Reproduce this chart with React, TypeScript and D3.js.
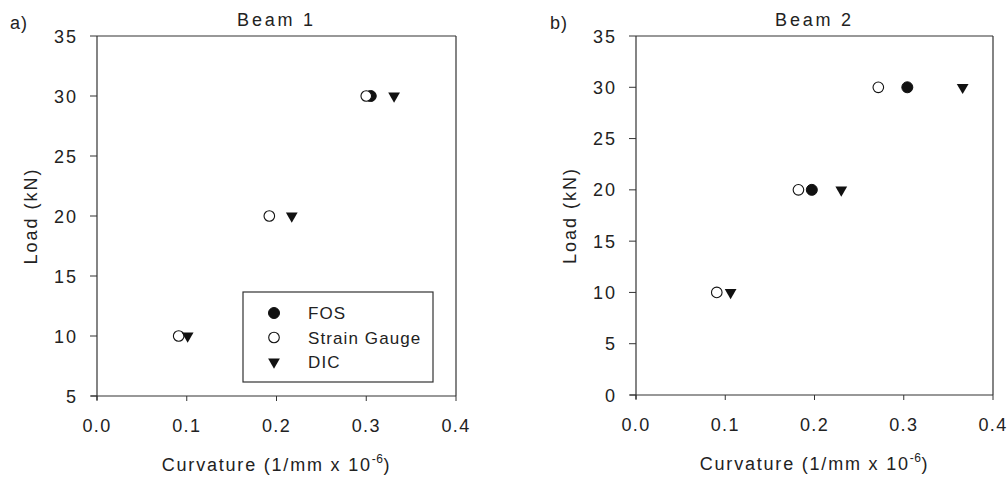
import React from "react";
import * as d3 from "d3";

const loads = [10, 20, 30];
const beam1FOS = [{ x: 0.305, y: 30 }];
const beam1SG = [0.091, 0.192, 0.300];
const beam1DIC = [0.101, 0.217, 0.331];
const beam2FOS = [{ x: 0.197, y: 20 }, { x: 0.304, y: 30 }];
const beam2SG = [0.0905, 0.182, 0.2715];
const beam2DIC = [0.106, 0.230, 0.366];
const xTicks = [0.0, 0.1, 0.2, 0.3, 0.4];
const yTicks1 = [5, 10, 15, 20, 25, 30, 35];
const yTicks2 = [0, 5, 10, 15, 20, 25, 30, 35];
const legendItems = ["FOS", "Strain Gauge", "DIC"];

const FONT = "'Liberation Sans', Arial, sans-serif";
const AX = "#333";

type Pt = { x: number; y: number };

function Marker({ kind, cx, cy }: { kind: string; cx: number; cy: number }) {
  if (kind === "FOS") return <circle cx={cx} cy={cy} r={5.5} fill="#111" stroke="#111" strokeWidth={1} />;
  if (kind === "Strain Gauge") return <circle cx={cx} cy={cy} r={5.3} fill="#fff" stroke="#111" strokeWidth={1.1} />;
  const tri = d3.symbol().type(d3.symbolTriangle).size(60)() as string;
  return <path d={tri} transform={`translate(${cx},${cy}) rotate(180)`} fill="#111" />;
}

function Panel({
  left, right, top, bottom, yDomain, yTicks, title, tag, tagX, fos, sg, dic, legend, yLabelX,
}: {
  left: number; right: number; top: number; bottom: number; yDomain: [number, number]; yTicks: number[];
  title: string; tag: string; tagX: number; fos: Pt[]; sg: number[]; dic: number[]; legend: boolean; yLabelX: number;
}) {
  const x = d3.scaleLinear().domain([0, 0.4]).range([left, right]);
  const y = d3.scaleLinear().domain(yDomain).range([bottom, top]);
  const cx = (left + right) / 2;
  const cy = (top + bottom) / 2;
  return (
    <g fontFamily={FONT} fill="#222">
      <text x={tagX} y={29} fontSize={18} letterSpacing={1}>{tag}</text>
      <text x={cx} y={26} fontSize={18} textAnchor="middle" letterSpacing={2.8}>{title}</text>
      <line x1={left} x2={right} y1={top} y2={top} stroke={AX} strokeWidth={1.2} />
      <line x1={right} x2={right} y1={top} y2={bottom} stroke={AX} strokeWidth={1.2} />
      <line x1={left} x2={left} y1={top} y2={bottom + 4} stroke={AX} strokeWidth={1.2} />
      <line x1={left - 6} x2={right} y1={bottom} y2={bottom} stroke={AX} strokeWidth={1.2} />
      {yTicks.map((t) => (
        <g key={"y" + t}>
          <line x1={left - 7} x2={left} y1={y(t)} y2={y(t)} stroke={AX} strokeWidth={1} />
          <text x={left - 19} y={y(t) + 6.5} fontSize={18} textAnchor="end" letterSpacing={2}>{t}</text>
        </g>
      ))}
      {xTicks.map((t) => (
        <g key={"x" + t}>
          <line x1={x(t)} x2={x(t)} y1={bottom} y2={bottom + 5} stroke={AX} strokeWidth={1} />
          <text x={x(t)} y={bottom + 36} fontSize={18} textAnchor="middle" letterSpacing={1.4}>{d3.format(".1f")(t)}</text>
        </g>
      ))}
      <text x={cx} y={bottom + 75} fontSize={18} textAnchor="middle" letterSpacing={1.8}>
        Curvature (1/mm x 10<tspan dy={-8} fontSize={12} letterSpacing={0.5}>-6</tspan><tspan dy={8}>)</tspan>
      </text>
      <text transform={`translate(${yLabelX},${cy}) rotate(-90)`} fontSize={18} textAnchor="middle" letterSpacing={2}>Load (kN)</text>
      {fos.map((p, i) => <Marker key={"f" + i} kind="FOS" cx={x(p.x)} cy={y(p.y)} />)}
      {sg.map((v, i) => <Marker key={"s" + i} kind="Strain Gauge" cx={x(v)} cy={y(loads[i])} />)}
      {dic.map((v, i) => <Marker key={"d" + i} kind="DIC" cx={x(v)} cy={y(loads[i])} />)}
      {legend && (
        <g>
          <rect x={243} y={292} width={190} height={90} fill="#fff" stroke={AX} strokeWidth={1.2} />
          {legendItems.map((k, i) => (
            <g key={k}>
              <Marker kind={k} cx={274} cy={313 + i * 24.5} />
              <text x={308} y={313 + i * 24.5 + 6} fontSize={17} letterSpacing={1.1}>{k}</text>
            </g>
          ))}
        </g>
      )}
    </g>
  );
}

export default function App() {
  return (
    <svg width={1008} height={480} style={{ position: "absolute", left: 0, top: 0, background: "#fff" }}>
      <rect width={1008} height={480} fill="#fff" />
      <Panel left={97} right={456} top={36} bottom={396} yDomain={[5, 35]} yTicks={yTicks1} title="Beam 1" tag="a)" tagX={10}
        fos={beam1FOS} sg={beam1SG} dic={beam1DIC} legend={true} yLabelX={37} />
      <Panel left={636} right={993} top={36} bottom={395} yDomain={[0, 35]} yTicks={yTicks2} title="Beam 2" tag="b)" tagX={550}
        fos={beam2FOS} sg={beam2SG} dic={beam2DIC} legend={false} yLabelX={576} />
    </svg>
  );
}
